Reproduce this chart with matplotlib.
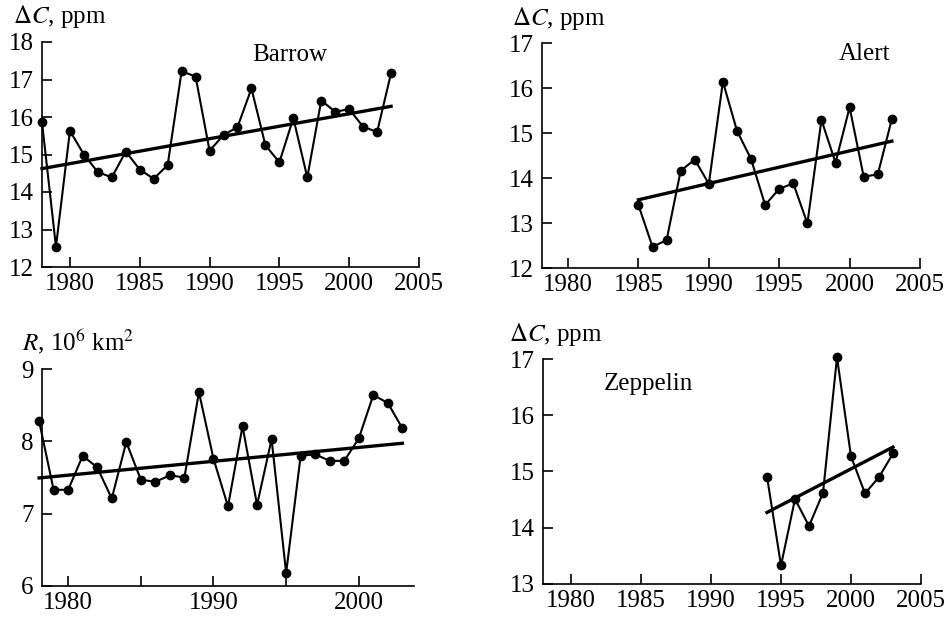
import numpy as np
import matplotlib
matplotlib.use("Agg")
import matplotlib.pyplot as plt

plt.rcParams['font.family'] = ['Liberation Serif', 'DejaVu Serif']
plt.rcParams['mathtext.fontset'] = 'stix'
plt.rcParams['font.size'] = 18

# Barrow, 1978-2003
barrow_years = list(range(1978, 2004))
barrow_dc = [15.86, 12.54, 15.63, 15.00, 14.53, 14.39, 15.08, 14.60, 14.35, 14.72,
             17.22, 17.08, 15.10, 15.52, 15.73, 16.76, 15.25, 14.79, 15.97, 14.39,
             16.44, 16.14, 16.21, 15.74, 15.60, 17.17]

# Alert, 1985-2003
alert_years = list(range(1985, 2004))
alert_dc = [13.40, 12.47, 12.62, 14.16, 14.41, 13.87, 16.14, 15.05, 14.42, 13.40,
            13.76, 13.88, 12.99, 15.29, 14.34, 15.57, 14.03, 14.08, 15.31]

# sea ice area R, 1978-2003
ice_years = list(range(1978, 2004))
ice_r = [8.28, 7.33, 7.33, 7.80, 7.64, 7.21, 7.99, 7.47, 7.44, 7.53,
         7.50, 8.68, 7.76, 7.10, 8.21, 7.12, 8.03, 6.18, 7.80, 7.82,
         7.73, 7.73, 8.04, 8.64, 8.53, 8.18]

# Zeppelin, 1994-2003
zep_years = list(range(1994, 2004))
zep_dc = [14.91, 13.33, 14.51, 14.03, 14.62, 17.03, 15.27, 14.61, 14.90, 15.32]

W, H = 949, 620
fig = plt.figure(figsize=(W / 100, H / 100), dpi=100)


def make_ax(l, r, t, b):
    return fig.add_axes([l / W, 1 - b / H, (r - l) / W, (b - t) / H])


def style(ax):
    for s in ['top', 'right']:
        ax.spines[s].set_visible(False)
    for s in ['left', 'bottom']:
        ax.spines[s].set_linewidth(1.2)
    ax.tick_params(direction='in', length=7, width=1.2, pad=4)
    ax.tick_params(axis='y', pad=6)


def draw(ax, x, y):
    ax.plot(x, y, '-o', color='black', lw=1.5, ms=6, clip_on=False, zorder=3)
    k, c = np.polyfit(x, y, 1)
    xs = np.array([x[0], x[-1]])
    ax.plot(xs, k * xs + c, color='black', lw=2.4, clip_on=False, zorder=2)


ax1 = make_ax(42, 419, 42, 267)
draw(ax1, barrow_years, barrow_dc)
ax1.set_xlim(1978, 2005)
ax1.set_ylim(12, 18)
ax1.set_xticks(range(1980, 2006, 5))
ax1.set_yticks(range(12, 19))
ax1.text(0.658, 0.942, 'Barrow', transform=ax1.transAxes, ha='center', va='center')
style(ax1)

ax2 = make_ax(542, 920, 43, 268)
draw(ax2, alert_years, alert_dc)
ax2.set_xlim(1978.15, 2005)
ax2.set_ylim(12, 17)
ax2.set_xticks(range(1980, 2006, 5))
ax2.set_yticks(range(12, 18))
ax2.text(0.852, 0.952, 'Alert', transform=ax2.transAxes, ha='center', va='center')
style(ax2)

ax3 = make_ax(42, 414, 369, 586)
draw(ax3, ice_years, ice_r)
ax3.set_xlim(1978.2, 2003.8)
ax3.set_ylim(6, 9)
ax3.set_xticks(range(1980, 2004, 5))
ax3.set_xticklabels(['1980', '', '1990', '', '2000'])
ax3.set_yticks(range(6, 10))
style(ax3)

ax4 = make_ax(543, 921, 359, 584)
draw(ax4, zep_years, zep_dc)
ax4.set_xlim(1978, 2005)
ax4.set_ylim(13, 17)
ax4.set_xticks(range(1980, 2006, 5))
ax4.set_yticks(range(13, 18))
ax4.text(0.278, 0.889, 'Zeppelin', transform=ax4.transAxes, ha='center', va='center')
style(ax4)

fig.text(13 / W, 1 - 17 / H, r'$\Delta C$, ppm', ha='left', va='center')
fig.text(512 / W, 1 - 18 / H, r'$\Delta C$, ppm', ha='left', va='center')
fig.text(22 / W, 1 - 342 / H, r'$R$, 10$^6$ km$^2$', ha='left', va='center')
fig.text(509 / W, 1 - 335 / H, r'$\Delta C$, ppm', ha='left', va='center')

fig.savefig('out.png', dpi=100)
